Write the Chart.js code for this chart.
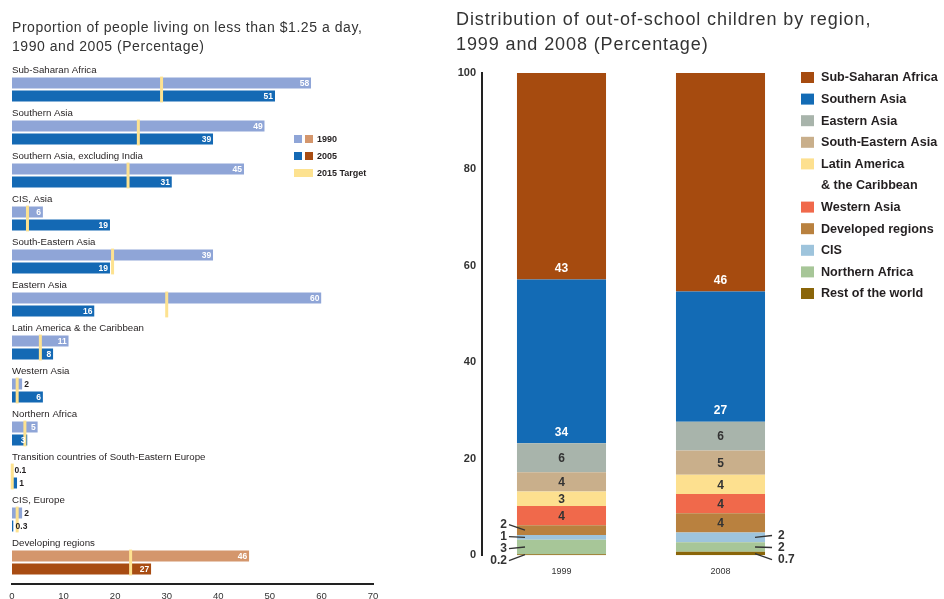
<!DOCTYPE html>
<html>
<head>
<meta charset="utf-8">
<script src="https://cdn.jsdelivr.net/npm/chart.js@4/dist/chart.umd.min.js"></script>
<style>
  html, body { margin: 0; padding: 0; background: #fff; }
  #wrap { position: relative; width: 944px; height: 599px; overflow: hidden; }
  canvas { position: absolute; top: 0; }
  #povertyChart { left: 0; }
  #schoolChart { left: 440px; }
  .title { position: absolute; font-family: "Liberation Sans", Arial, sans-serif; color: #333; white-space: nowrap; }
  #povertyTitle { left: 12px; top: 18px; font-size: 14px; line-height: 19px; letter-spacing: 0.55px; }
  #schoolTitle { left: 456px; top: 7px; font-size: 18px; line-height: 25px; letter-spacing: 0.9px; }
</style>
</head>
<body>
<div id="wrap">
  <canvas id="povertyChart" width="440" height="599"></canvas>
  <canvas id="schoolChart" width="504" height="599"></canvas>
  <div class="title" id="povertyTitle">Proportion of people living on less than $1.25 a day,<br>1990 and 2005 (Percentage)</div>
  <div class="title" id="schoolTitle">Distribution of out-of-school children by region,<br>1999 and 2008 (Percentage)</div>
</div>
<script>
// ---- Poverty: share of people living on less than $1.25 a day ----
const povertyRegions = [
  'Sub-Saharan Africa',
  'Southern Asia',
  'Southern Asia, excluding India',
  'CIS, Asia',
  'South-Eastern Asia',
  'Eastern Asia',
  'Latin America & the Caribbean',
  'Western Asia',
  'Northern Africa',
  'Transition countries of South-Eastern Europe',
  'CIS, Europe',
  'Developing regions'
];
const poverty1990 = [58, 49, 45, 6, 39, 60, 11, 2, 5, 0.1, 2, 46];
const poverty2005 = [51, 39, 31, 19, 19, 16, 8, 6, 3, 1, 0.3, 27];
const target2015 = [29, 24.5, 22.5, 3, 19.5, 30, 5.5, 1, 2.5, 0.05, 1, 23];
const povertyTicks = [0, 10, 20, 30, 40, 50, 60, 70];
const povertyLegend = ['1990', '2005', '2015 Target'];

// ---- Out-of-school children by region ----
const schoolYears = ['1999', '2008'];
const schoolRegions = [
  'Sub-Saharan Africa',
  'Southern Asia',
  'Eastern Asia',
  'South-Eastern Asia',
  'Latin America & the Caribbean',
  'Western Asia',
  'Developed regions',
  'CIS',
  'Northern Africa',
  'Rest of the world'
];
const share1999 = [43, 34, 6, 4, 3, 4, 2, 1, 3, 0.2];
const share2008 = [46, 27, 6, 5, 4, 4, 4, 2, 2, 0.7];
const schoolTicks = [0, 20, 40, 60, 80, 100];

const FONT = '"Liberation Sans", Arial, sans-serif';
const INK = '#231F20';
const C = { light: '#8FA5D7', blue: '#1469B4', tan: '#D4966C', brown: '#A84C12', target: '#FDE290' };
const schoolColors = ['#A64B0F', '#136BB5', '#A8B4AB', '#C9AF8B', '#FDE08F',
                      '#F0694B', '#B9813F', '#9EC4DC', '#A7C698', '#8A6509'];

Chart.defaults.font.family = FONT;
Chart.defaults.animation = false;

const isTotal = i => i === povertyRegions.length - 1;

// captions, target markers, value labels and key for the poverty bars
const povertyDecor = {
  id: 'povertyDecor',
  afterDatasetsDraw(chart) {
    const ctx = chart.ctx;
    const xs = chart.scales.x;
    const m0 = chart.getDatasetMeta(0).data;
    const m1 = chart.getDatasetMeta(1).data;
    ctx.save();
    povertyRegions.forEach((name, i) => {
      const a = m0[i], b = m1[i];
      const top = a.y - a.height / 2;
      const bottom = b.y + b.height / 2;

      ctx.font = `9.7px ${FONT}`;
      ctx.fillStyle = INK;
      ctx.textAlign = 'left';
      ctx.textBaseline = 'bottom';
      ctx.fillText(name, chart.chartArea.left, top - 1);

      const tx = xs.getPixelForValue(target2015[i]);
      ctx.fillStyle = C.target;
      ctx.fillRect(tx - 1.5, top, 3, bottom - top);

      [[a, poverty1990[i]], [b, poverty2005[i]]].forEach(([bar, v]) => {
        ctx.font = `bold 8.5px ${FONT}`;
        ctx.textBaseline = 'middle';
        if (v >= 3) {
          ctx.fillStyle = '#fff';
          ctx.textAlign = 'right';
          ctx.fillText(String(v), bar.x - 2, bar.y + 0.5);
        } else {
          ctx.fillStyle = INK;
          ctx.textAlign = 'left';
          ctx.fillText(String(v), bar.x + 2, bar.y + 0.5);
        }
      });
    });

    // key
    const kx = 294, rows = [139, 156, 173];
    ctx.fillStyle = C.light; ctx.fillRect(kx, rows[0] - 4, 8, 8);
    ctx.fillStyle = C.tan;   ctx.fillRect(kx + 11, rows[0] - 4, 8, 8);
    ctx.fillStyle = C.blue;  ctx.fillRect(kx, rows[1] - 4, 8, 8);
    ctx.fillStyle = C.brown; ctx.fillRect(kx + 11, rows[1] - 4, 8, 8);
    ctx.fillStyle = C.target; ctx.fillRect(kx, rows[2] - 4, 19, 8);
    ctx.font = `bold 9px ${FONT}`;
    ctx.fillStyle = INK;
    ctx.textAlign = 'left';
    ctx.textBaseline = 'middle';
    povertyLegend.forEach((t, k) => ctx.fillText(t, kx + 23, rows[k] + 0.5));
    ctx.restore();
  }
};

new Chart(document.getElementById('povertyChart'), {
  type: 'bar',
  data: {
    labels: povertyRegions,
    datasets: [
      { label: '1990', data: poverty1990,
        backgroundColor: povertyRegions.map((_, i) => isTotal(i) ? C.tan : C.light) },
      { label: '2005', data: poverty2005,
        backgroundColor: povertyRegions.map((_, i) => isTotal(i) ? C.brown : C.blue) }
    ]
  },
  options: {
    indexAxis: 'y',
    responsive: false,
    animation: false,
    layout: { padding: { left: 12, right: 67, top: 68, bottom: 0 } },
    datasets: { bar: {
      categoryPercentage: 0.6, barPercentage: 1,
      borderColor: '#fff', borderWidth: { top: 1, bottom: 1, left: 0, right: 0 }, borderSkipped: false
    } },
    plugins: { legend: { display: false }, tooltip: { enabled: false } },
    scales: {
      x: {
        min: 0, max: 70,
        afterBuildTicks: s => { s.ticks = povertyTicks.map(v => ({ value: v })); },
        afterFit: s => { s.height = 15; },
        grid: { display: false, drawTicks: false },
        border: { display: true, color: '#222', width: 2 },
        ticks: { font: { size: 9.5 }, color: '#333', padding: 7 }
      },
      y: { display: false }
    }
  },
  plugins: [povertyDecor]
});

// segment labels, callouts and key for the stacked bars
const schoolDecor = {
  id: 'schoolDecor',
  afterDatasetsDraw(chart) {
    const ctx = chart.ctx;
    const n = schoolRegions.length;
    ctx.save();
    [share1999, share2008].forEach((shares, col) => {
      let calloutY = null;
      for (let r = n - 1; r >= 0; r--) {
        const v = shares[r];
        const bar = chart.getDatasetMeta(n - 1 - r).data[col];
        const mid = (bar.y + bar.base) / 2;
        const left = bar.x - bar.width / 2, right = bar.x + bar.width / 2;
        ctx.font = `bold 12px ${FONT}`;
        ctx.textBaseline = 'middle';
        if (r >= 6 && v < 4) {
          calloutY = calloutY === null ? mid + 6 : calloutY - 12;
          ctx.strokeStyle = '#333';
          ctx.lineWidth = 1.3;
          ctx.beginPath();
          if (col === 0) {
            ctx.moveTo(left + 8, mid);
            ctx.lineTo(left - 8, calloutY);
          } else {
            ctx.moveTo(right - 10, mid);
            ctx.lineTo(right + 7, calloutY);
          }
          ctx.stroke();
          ctx.fillStyle = '#333';
          ctx.textAlign = col === 0 ? 'right' : 'left';
          ctx.fillText(String(v), col === 0 ? left - 10 : right + 13, calloutY);
        } else if (v >= 20) {
          ctx.fillStyle = '#fff';
          ctx.textAlign = 'center';
          ctx.fillText(String(v), bar.x, bar.base - 11);
        } else {
          ctx.fillStyle = '#333';
          ctx.textAlign = 'center';
          ctx.fillText(String(v), bar.x, mid + 1);
        }
      }
    });

    // key
    const kx = 361;
    let line = 0;
    ctx.font = `bold 12.6px ${FONT}`;
    ctx.textAlign = 'left';
    ctx.textBaseline = 'middle';
    schoolRegions.forEach((name, r) => {
      const y = 78 + line * 21.6;
      ctx.fillStyle = schoolColors[r];
      ctx.fillRect(kx, y - 6, 13, 11);
      const k = name.indexOf(' & ');
      const parts = k > 0 ? [name.slice(0, k), name.slice(k + 1)] : [name];
      ctx.fillStyle = INK;
      parts.forEach((p, j) => ctx.fillText(p, kx + 20, y + j * 21.6));
      line += parts.length;
    });
    ctx.restore();
  }
};

const schoolDatasets = schoolRegions.map((name, r) => ({
  label: name,
  data: [share1999[r], share2008[r]],
  backgroundColor: schoolColors[r]
})).reverse();

new Chart(document.getElementById('schoolChart'), {
  type: 'bar',
  data: { labels: schoolYears, datasets: schoolDatasets },
  options: {
    responsive: false,
    animation: false,
    layout: { padding: { left: 0, right: 144, top: 73, bottom: 11 } },
    datasets: { bar: { categoryPercentage: 0.56, barPercentage: 1 } },
    plugins: { legend: { display: false }, tooltip: { enabled: false } },
    scales: {
      x: {
        stacked: true,
        grid: { display: false, drawTicks: false },
        border: { display: false },
        ticks: { font: { size: 9 }, color: '#333', padding: 11 }
      },
      y: {
        stacked: true, min: 0, max: 100,
        afterBuildTicks: s => { s.ticks = schoolTicks.map(v => ({ value: v })); },
        afterFit: s => { s.width = 42; },
        grid: { display: false, drawTicks: false },
        border: { display: true, color: '#222', width: 2 },
        ticks: { font: { size: 11, weight: 'bold' }, color: '#333', padding: 6 }
      }
    }
  },
  plugins: [schoolDecor]
});
</script>
</body>
</html>
